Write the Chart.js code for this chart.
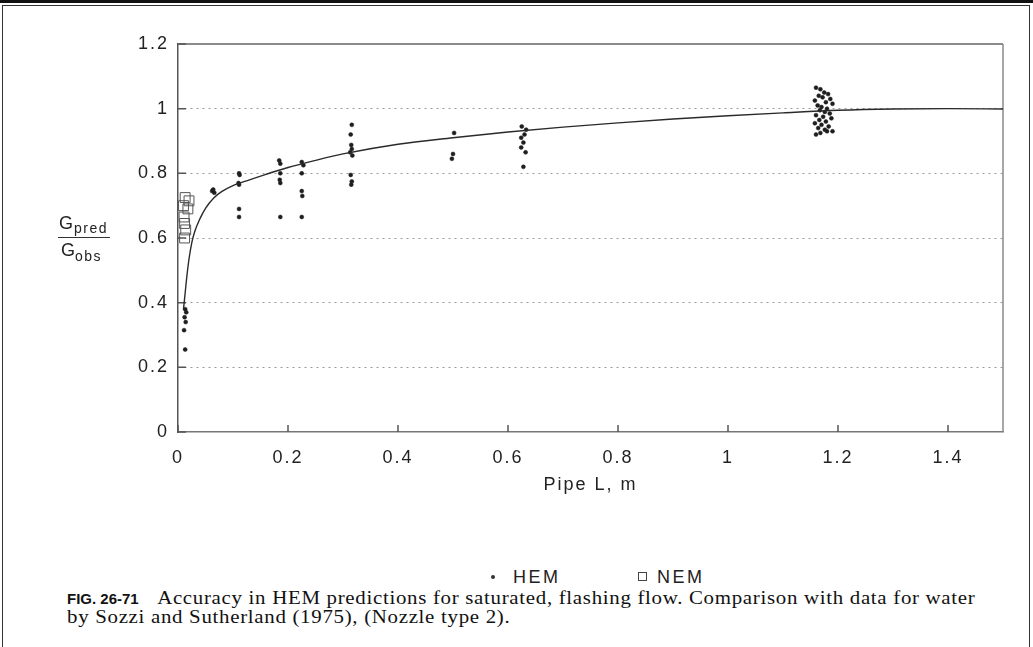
<!DOCTYPE html>
<html>
<head>
<meta charset="utf-8">
<script src="https://cdn.jsdelivr.net/npm/chart.js@4.4.1/dist/chart.umd.min.js"></script>
<style>
  body { margin: 0; background: #fff; width: 1033px; height: 647px; overflow: hidden; position: relative; }
  .topbar { position: absolute; left: 0; top: 0; width: 1033px; height: 3px; background: #111; }
  .frame { position: absolute; left: 2px; top: 5px; width: 1026px; height: 660px; border: 1.5px solid #333; }
  #chart { position: absolute; left: 0; top: 0; }
  .lg { position: absolute; font-family: "Liberation Sans", Arial, sans-serif; font-size: 18px; letter-spacing: 2.5px; color: #222; line-height: 22px; }
  .dot { position: absolute; width: 4px; height: 4px; border-radius: 50%; background: #333; }
  .sq { position: absolute; width: 7px; height: 7px; border: 1.2px solid #444; }
  .caption { position: absolute; left: 67px; top: 589px; font-family: "Liberation Serif", "DejaVu Serif", serif; font-size: 18px; line-height: 18px; color: #111; letter-spacing: 0.6px; white-space: nowrap; transform-origin: 0 0; transform: scaleX(1.16); }
  .caption b { font-family: "Liberation Sans", Arial, sans-serif; font-size: 15px; font-weight: bold; letter-spacing: 0; margin-right: 6px; display: inline-block; transform-origin: 0 0; transform: scaleX(0.862); }
</style>
</head>
<body>
<div class="topbar"></div>
<div class="frame"></div>
<canvas id="chart" width="1033" height="500" style="width:1033px;height:500px"></canvas>

<span class="dot" style="left:491px;top:575px"></span>
<span class="lg" style="left:513px;top:566px">HEM</span>
<span class="sq" style="left:638px;top:572px"></span>
<span class="lg" style="left:657px;top:566px">NEM</span>

<div class="caption"><b>FIG. 26-71</b>Accuracy in HEM predictions for saturated, flashing flow. Comparison with data for water<br>by Sozzi and Sutherland (1975), (Nozzle type 2).</div>

<script>
// HEM data points (pipe length in m, Gpred/Gobs)
const hemL = [
  0.013, 0.015, 0.012, 0.014, 0.011, 0.013,
  0.062, 0.066, 0.064,
  0.111, 0.112, 0.110, 0.111, 0.111, 0.111,
  0.184, 0.186, 0.186, 0.185, 0.186, 0.186,
  0.225, 0.228, 0.225, 0.225, 0.226, 0.225,
  0.316, 0.314, 0.315, 0.316, 0.313, 0.317, 0.314, 0.316, 0.315,
  0.502, 0.500, 0.498,
  0.625, 0.633, 0.630, 0.624, 0.628, 0.624, 0.632, 0.628,
  1.160, 1.168, 1.175, 1.182, 1.165, 1.172, 1.186, 1.158, 1.178, 1.190,
  1.163, 1.170, 1.180, 1.167, 1.176, 1.185, 1.160, 1.173, 1.188, 1.166,
  1.178, 1.158, 1.170, 1.183, 1.164, 1.176, 1.190, 1.168, 1.160, 1.180
];
const hemG = [
  0.380, 0.370, 0.355, 0.340, 0.315, 0.255,
  0.745, 0.740, 0.750,
  0.800, 0.795, 0.770, 0.765, 0.690, 0.665,
  0.840, 0.830, 0.800, 0.780, 0.770, 0.665,
  0.835, 0.825, 0.800, 0.745, 0.730, 0.665,
  0.950, 0.920, 0.888, 0.875, 0.865, 0.855, 0.795, 0.775, 0.765,
  0.925, 0.860, 0.845,
  0.945, 0.935, 0.920, 0.910, 0.895, 0.880, 0.865, 0.820,
  1.065, 1.060, 1.050, 1.045, 1.040, 1.035, 1.030, 1.025, 1.020, 1.015,
  1.010, 1.005, 1.000, 0.995, 0.990, 0.985, 0.980, 0.975, 0.970, 0.965,
  0.960, 0.955, 0.950, 0.945, 0.940, 0.935, 0.930, 0.925, 0.920, 0.930
];

// NEM data points
const nemL = [0.013, 0.020, 0.010, 0.018, 0.011, 0.012, 0.014, 0.012];
const nemG = [0.725, 0.715, 0.700, 0.690, 0.665, 0.645, 0.625, 0.600];

// HEM model curve
const curveL = [0.010, 0.013, 0.016, 0.020, 0.025, 0.030, 0.040, 0.050, 0.065, 0.080, 0.100, 0.130, 0.160, 0.200,
  0.250, 0.300, 0.400, 0.500, 0.600, 0.700, 0.800, 0.900, 1.000, 1.100, 1.200, 1.300, 1.400, 1.500];
const curveG = [0.380, 0.430, 0.480, 0.535, 0.585, 0.618, 0.660, 0.692, 0.724, 0.744, 0.762, 0.780, 0.797, 0.818,
  0.840, 0.860, 0.890, 0.910, 0.928, 0.943, 0.956, 0.968, 0.978, 0.987, 0.995, 0.999, 1.000, 0.999];

const xTicks = [0, 0.2, 0.4, 0.6, 0.8, 1, 1.2, 1.4];
const yTicks = [0, 0.2, 0.4, 0.6, 0.8, 1, 1.2];

const pts = (xs, ys) => xs.map((x, i) => ({ x: x, y: ys[i] }));
const axisFont = { family: "'Liberation Sans', Arial, sans-serif", size: 18 };

// frame, inward tick marks and the Gpred/Gobs axis label
const framePlugin = {
  id: "frame",
  beforeUpdate(chart) { chart.ctx.letterSpacing = "2px"; },
  beforeDraw(chart) { chart.ctx.letterSpacing = "2px"; },
  beforeDatasetsDraw(chart) {
    const { ctx, chartArea: a, scales } = chart;
    ctx.save();
    ctx.strokeStyle = "#8a8a8a";
    ctx.lineWidth = 2;
    ctx.beginPath();
    ctx.moveTo(a.left, a.top);
    ctx.lineTo(a.right, a.top);
    ctx.stroke();
    ctx.lineWidth = 1.5;
    ctx.beginPath();
    ctx.moveTo(a.right, a.top);
    ctx.lineTo(a.right, a.bottom);
    ctx.stroke();
    ctx.strokeStyle = "#555";
    ctx.lineWidth = 1.5;
    ctx.beginPath();
    scales.x.ticks.forEach((t) => {
      const px = scales.x.getPixelForValue(t.value);
      ctx.moveTo(px, a.bottom);
      ctx.lineTo(px, a.bottom - 7);
    });
    scales.y.ticks.forEach((t) => {
      const py = scales.y.getPixelForValue(t.value);
      ctx.moveTo(a.left, py);
      ctx.lineTo(a.left + 8, py);
    });
    ctx.stroke();
    ctx.restore();
  },
  afterDraw(chart) {
    const ctx = chart.ctx;
    ctx.save();
    ctx.fillStyle = "#222";
    ctx.textBaseline = "alphabetic";
    ctx.letterSpacing = "1px";
    ctx.font = "18px 'Liberation Sans', Arial, sans-serif";
    ctx.fillText("G", 59, 229);
    ctx.fillText("G", 61, 256);
    ctx.letterSpacing = "1.5px";
    ctx.font = "14px 'Liberation Sans', Arial, sans-serif";
    ctx.fillText("pred", 74, 233);
    ctx.fillText("obs", 75, 261);
    ctx.strokeStyle = "#333";
    ctx.lineWidth = 1.2;
    ctx.beginPath();
    ctx.moveTo(58, 237.5);
    ctx.lineTo(110, 237.5);
    ctx.stroke();
    ctx.restore();
  },
};

new Chart(document.getElementById("chart"), {
  type: "scatter",
  data: {
    datasets: [
      {
        label: "HEM curve",
        type: "line",
        data: pts(curveL, curveG),
        borderColor: "#2a2a2a",
        borderWidth: 1.4,
        pointRadius: 0,
        cubicInterpolationMode: "monotone",
        fill: false,
      },
      {
        label: "HEM",
        data: pts(hemL, hemG),
        pointStyle: "circle",
        pointRadius: 2,
        backgroundColor: "#1e1e1e",
        borderColor: "#1e1e1e",
        borderWidth: 0.5,
      },
      {
        label: "NEM",
        data: pts(nemL, nemG),
        pointStyle: "rect",
        pointRadius: 7,
        backgroundColor: "rgba(0,0,0,0)",
        borderColor: "#555",
        borderWidth: 1,
      },
    ],
  },
  options: {
    responsive: false,
    animation: false,
    layout: { padding: { left: 0, right: 30, top: 44, bottom: 0 } },
    plugins: {
      legend: { display: false },
      tooltip: { enabled: false },
    },
    scales: {
      x: {
        type: "linear",
        min: 0,
        max: 1.5,
        afterBuildTicks: (s) => { s.ticks = xTicks.map((v) => ({ value: v })); },
        afterFit: (s) => { s.height = 68; },
        ticks: {
          color: "#222",
          font: axisFont,
          padding: 15,
          maxRotation: 0,
          callback: (v) => String(+v.toFixed(1)),
        },
        grid: { display: false, drawTicks: false },
        border: { color: "#777", width: 1.5 },
        title: {
          display: true,
          text: "Pipe L, m",
          color: "#222",
          font: axisFont,
          padding: { top: 4, bottom: 4 },
        },
      },
      y: {
        type: "linear",
        min: 0,
        max: 1.2,
        afterBuildTicks: (s) => { s.ticks = yTicks.map((v) => ({ value: v })); },
        afterFit: (s) => { s.width = 178; },
        ticks: {
          color: "#222",
          font: axisFont,
          padding: 9,
          callback: (v) => String(+v.toFixed(1)),
        },
        grid: {
          drawTicks: false,
          color: (c) => (c.tick && c.tick.value > 0 && c.tick.value < 1.2 ? "#9a9a9a" : "rgba(0,0,0,0)"),
          lineWidth: 1,
        },
        border: { color: "#555", width: 1.5, dash: [2, 4] },
      },
    },
  },
  plugins: [framePlugin],
});
</script>
</body>
</html>
